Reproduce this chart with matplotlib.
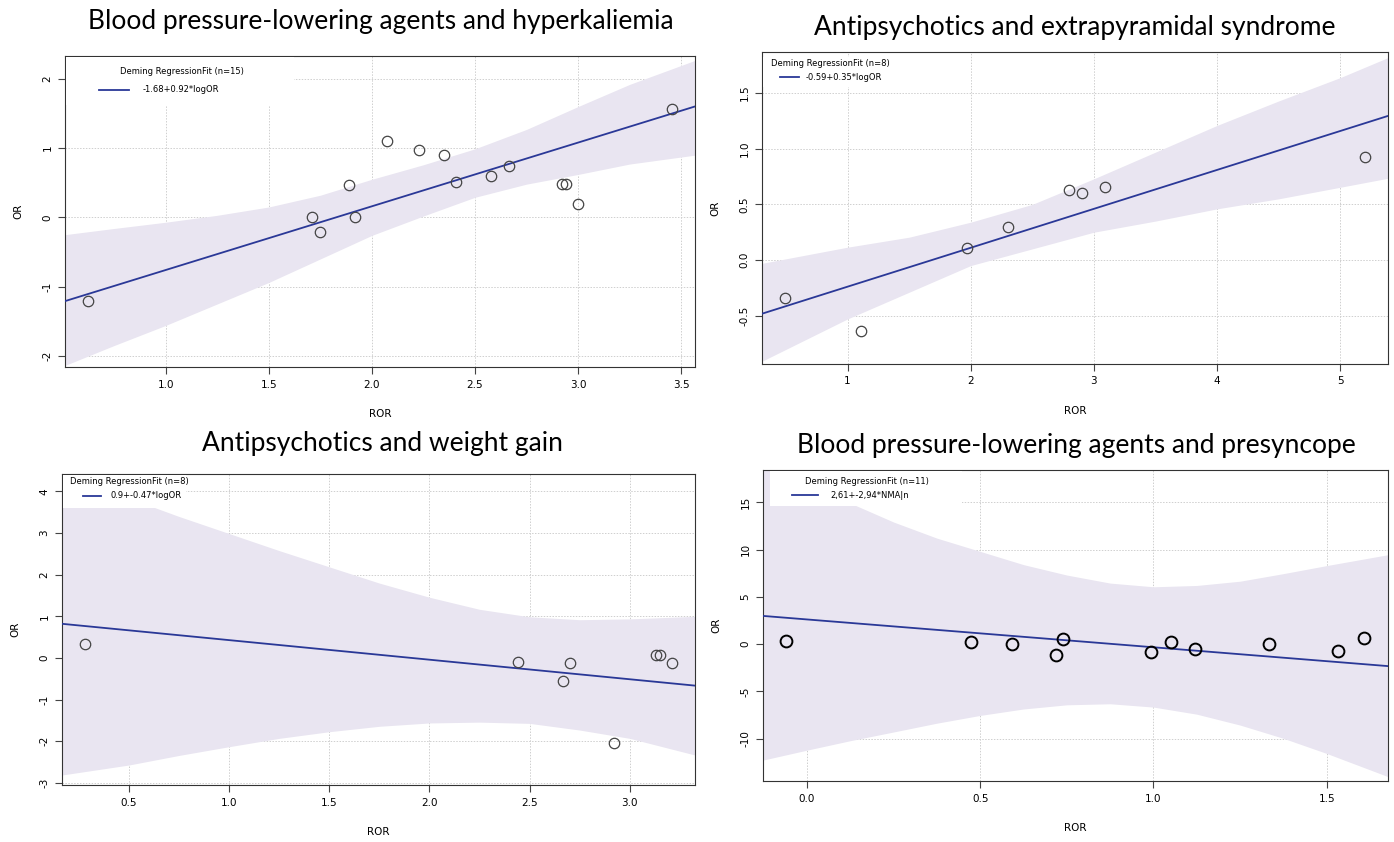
import numpy as np
import matplotlib.pyplot as plt
from matplotlib.patches import Rectangle

W, H = 1394, 842

# --- data ---
# Blood pressure-lowering agents and hyperkaliemia
ror1 = [0.625, 1.708, 1.749, 1.89, 1.92, 2.073, 2.23, 2.348, 2.408, 2.58, 2.663, 2.92, 2.94, 3.0, 3.454]
or1 = [-1.20, 0.01, -0.21, 0.47, 0.005, 1.11, 0.98, 0.90, 0.51, 0.60, 0.74, 0.48, 0.48, 0.19, 1.57]
coef1 = (-1.68, 0.92)
band1_x = [0.51, 0.75, 1.0, 1.25, 1.5, 1.75, 2.0, 2.25, 2.5, 2.75, 3.0, 3.25, 3.57]
band1_lo = [-2.14, -1.85, -1.56, -1.25, -0.94, -0.60, -0.26, 0.02, 0.29, 0.48, 0.62, 0.77, 0.90]
band1_hi = [-0.25, -0.16, -0.07, 0.03, 0.15, 0.32, 0.55, 0.76, 0.99, 1.27, 1.60, 1.92, 2.27]

# Antipsychotics and extrapyramidal syndrome
ror2 = [0.494, 1.111, 1.967, 2.303, 2.796, 2.90, 3.093, 5.199]
or2 = [-0.341, -0.635, 0.106, 0.295, 0.633, 0.606, 0.654, 0.930]
coef2 = (-0.59, 0.35)
band2_x = [0.306, 1.0, 1.5, 2.0, 2.5, 3.0, 3.5, 4.0, 4.5, 5.0, 5.387]
band2_lo = [-0.91, -0.53, -0.29, -0.05, 0.10, 0.25, 0.35, 0.46, 0.55, 0.654, 0.735]
band2_hi = [-0.03, 0.115, 0.205, 0.34, 0.50, 0.73, 0.97, 1.21, 1.43, 1.64, 1.82]

# Antipsychotics and weight gain
ror3 = [0.283, 2.444, 2.669, 2.70, 2.921, 3.130, 3.153, 3.209]
or3 = [0.347, -0.105, -0.556, -0.121, -2.03, 0.081, 0.081, -0.113]
coef3 = (0.9, -0.47)
band3_x = [0.166, 0.5, 0.75, 1.0, 1.25, 1.5, 1.75, 2.0, 2.25, 2.5, 2.75, 3.0, 3.326]
band3_lo = [-2.81, -2.57, -2.34, -2.13, -1.93, -1.77, -1.64, -1.56, -1.54, -1.57, -1.73, -1.93, -2.33]
band3_hi = [4.6, 3.84, 3.4, 2.99, 2.58, 2.19, 1.80, 1.46, 1.17, 0.99, 0.92, 0.94, 1.0]

# Blood pressure-lowering agents and presyncope
ror4 = [-0.060, 0.472, 0.591, 0.720, 0.738, 0.992, 1.051, 1.119, 1.333, 1.534, 1.608]
or4 = [0.385, 0.175, 0.035, -1.155, 0.595, -0.805, 0.175, -0.525, 0.035, -0.735, 0.63]
coef4 = (2.61, -2.94)
band4_x = [-0.127, 0.0, 0.125, 0.25, 0.375, 0.5, 0.625, 0.75, 0.875, 1.0, 1.125, 1.25, 1.375, 1.5, 1.677]
band4_lo = [-12.25, -11.2, -10.2, -9.28, -8.35, -7.53, -6.85, -6.41, -6.3, -6.65, -7.4, -8.55, -9.95, -11.55, -14.0]
band4_hi = [20.5, 17.3, 14.9, 12.9, 11.2, 9.8, 8.4, 7.3, 6.45, 6.06, 6.2, 6.65, 7.45, 8.3, 9.45]

titles = ["Blood pressure-lowering agents and hyperkaliemia",
          "Antipsychotics and extrapyramidal syndrome",
          "Antipsychotics and weight gain",
          "Blood pressure-lowering agents and presyncope"]
legend_titles = ["Deming RegressionFit (n=15)", "Deming RegressionFit (n=8)",
                 "Deming RegressionFit (n=8)", "Deming RegressionFit (n=11)"]
legend_labels = ["-1.68+0.92*logOR", "-0.59+0.35*logOR", "0.9+-0.47*logOR", "2,61+-2,94*NMA|n"]

LINE = "#2a3897"
BAND = "#e9e5f1"
GRID = "#cfcfcf"

fig = plt.figure(figsize=(W / 100, H / 100), dpi=100)


def panel(box, ror, orr, coef, bx, blo, bhi, xlim, ylim, xticks, xfmt, yticks, yfmt,
          title, title_xy, leg, pt_lw=0.9, pt_col="#444444", ms=7.5):
    L, T, R, B = box
    ax = fig.add_axes([L / W, 1 - B / H, (R - L) / W, (B - T) / H])

    def fx(x, y):
        return (x - L) / (R - L), (B - y) / (B - T)

    ax.fill_between(bx, blo, bhi, color=BAND, lw=0, zorder=1)
    ax.axline((0, coef[0]), slope=coef[1], color=LINE, lw=1.3, zorder=3)
    ax.plot(ror, orr, 'o', ms=ms, mfc='none', mec=pt_col, mew=pt_lw, zorder=4)

    ax.set_xlim(*xlim)
    ax.set_ylim(*ylim)
    ax.set_xticks(xticks)
    ax.set_xticklabels([xfmt.format(v) for v in xticks])
    ax.set_yticks(yticks)
    ax.set_yticklabels([yfmt.format(v) for v in yticks], rotation=90, va='center')
    ax.grid(True, color=GRID, ls=(0, (1.5, 1.5)), lw=0.7, zorder=0)
    ax.set_axisbelow(True)
    ax.tick_params(direction='out', length=5, width=0.8, labelsize=7.5, pad=4, color="#444444")
    for s in ax.spines.values():
        s.set_linewidth(0.8)
        s.set_color("#333333")
    ax.set_xlabel("ROR", fontsize=7.5, labelpad=14)
    ax.set_ylabel("OR", fontsize=7.5, labelpad=14)

    fig.text(title_xy[0] / W, 1 - title_xy[1] / H, title, fontsize=19, family="Lato",
             ha='center', va='center')

    # legend (R style, white box without border)
    (bx0, by0, bx1, by1), (tx, ty, tha), (lx0, lx1, ly), (labx, laby), ltitle, llabel = leg
    x0, y0 = fx(bx0, by1)
    x1, y1 = fx(bx1, by0)
    ax.add_patch(Rectangle((x0, y0), x1 - x0, y1 - y0, transform=ax.transAxes,
                           facecolor='white', edgecolor='none', zorder=5))
    p = fx(tx, ty)
    ax.text(p[0], p[1], ltitle, transform=ax.transAxes, fontsize=6, ha=tha, va='center', zorder=6)
    a0 = fx(lx0, ly)
    a1 = fx(lx1, ly)
    ax.plot([a0[0], a1[0]], [a0[1], a1[1]], transform=ax.transAxes, color=LINE, lw=1.3, zorder=6)
    p = fx(labx, laby)
    ax.text(p[0], p[1], llabel, transform=ax.transAxes, fontsize=6, ha='left', va='center', zorder=6)
    return ax


panel((65, 56, 695, 367), ror1, or1, coef1, band1_x, band1_lo, band1_hi,
      (0.512, 3.567), (-2.16, 2.33), [1.0, 1.5, 2.0, 2.5, 3.0, 3.5], "{:.1f}",
      [-2, -1, 0, 1, 2], "{:d}", titles[0], (381, 22),
      ((66, 57, 294, 105), (182, 71, 'center'), (99, 129, 90), (143, 90),
       legend_titles[0], legend_labels[0]))

panel((762, 52, 1388, 364), ror2, or2, coef2, band2_x, band2_lo, band2_hi,
      (0.306, 5.387), (-0.935, 1.87), [1, 2, 3, 4, 5], "{:d}",
      [-0.5, 0.0, 0.5, 1.0, 1.5], "{:.1f}", titles[1], (1075, 28),
      ((763, 57, 892, 87), (771, 63, 'left'), (780, 799, 77), (806, 77),
       legend_titles[1], legend_labels[1]))

panel((62, 474, 695, 785), ror3, or3, coef3, band3_x, band3_lo, band3_hi,
      (0.166, 3.326), (-3.05, 4.42), [0.5, 1.0, 1.5, 2.0, 2.5, 3.0], "{:.1f}",
      [-3, -2, -1, 0, 1, 2, 3, 4], "{:d}", titles[2], (382, 443),
      ((63, 475, 186, 508), (70, 482, 'left'), (83, 101, 496), (110, 496),
       legend_titles[2], legend_labels[2]))

panel((763, 470, 1388, 781), ror4, or4, coef4, band4_x, band4_lo, band4_hi,
      (-0.127, 1.677), (-14.46, 18.4), [0.0, 0.5, 1.0, 1.5], "{:.1f}",
      [-10, -5, 0, 5, 10, 15], "{:d}", titles[3], (1076, 446),
      ((770, 471, 962, 506), (805, 481, 'left'), (792, 818, 495), (830, 495),
       legend_titles[3], legend_labels[3]), pt_lw=1.4, pt_col="black", ms=8.5)

fig.savefig("out.png", dpi=100)
